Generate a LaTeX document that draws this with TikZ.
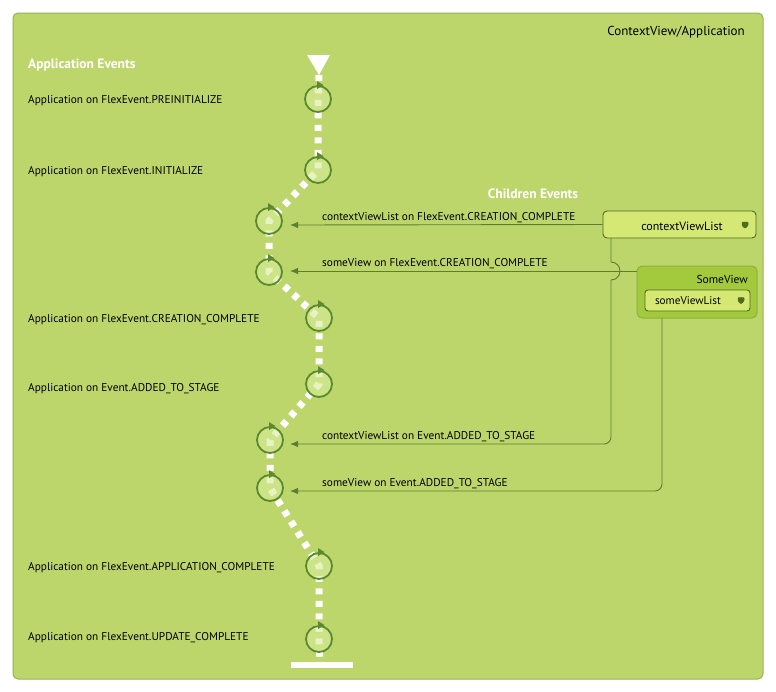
\documentclass[tikz,border=0pt]{standalone}
\usepackage{fontspec}
\setmainfont{PT Sans}
\usetikzlibrary{arrows.meta,calc}
\definecolor{panel}{HTML}{BDD66C}
\definecolor{panelline}{HTML}{93B54C}
\definecolor{ringc}{HTML}{5B8A2E}
\definecolor{ringfill}{HTML}{D9EC9C}
\definecolor{connc}{HTML}{5C7F2C}
\definecolor{lightbox}{HTML}{D6E874}
\definecolor{darkline}{HTML}{4E6B22}
\definecolor{svfill}{HTML}{A3C93C}
\definecolor{svline}{HTML}{8DB043}
\tikzset{
  lbl/.style={anchor=west, inner sep=0pt, font=\fontsize{11.3}{13}\selectfont},
  head/.style={inner sep=0pt, font=\bfseries\fontsize{13.5}{15}\selectfont, text=white},
  ring/.style={circle, minimum size=26pt, inner sep=0pt, draw=ringc, line width=1.8pt, fill=ringfill, fill opacity=0.6, draw opacity=1},
  ringtip/.style={fill=ringc},
  conn/.style={draw=connc, line width=0.9pt},
  arr/.style={conn, -{Latex[length=8pt,width=6.5pt]}},
  trail/.style={draw=white, line width=7pt, dash pattern=on 6pt off 6.5pt},
  listbox/.style={draw=darkline, line width=0.9pt, fill=lightbox, rounded corners=4pt},
  icon/.style={fill=darkline, draw=darkline, line width=0.5pt, rounded corners=0.8pt}
}
\begin{document}
\begin{tikzpicture}[x=1pt,y=-1pt]
\useasboundingbox (0,0) rectangle (776,691);
\fill[white] (0,0) rectangle (776,691);
% main panel
\draw[panelline, fill=panel, line width=1pt, rounded corners=5pt] (13,13) rectangle (763,679);
\node[anchor=east, inner sep=0pt, font=\fontsize{13}{15}\selectfont] (title) at (745,32.5) {ContextView/Application};
\node[head, anchor=west] (appev) at (28,65.5) {Application Events};
\node[head] (chev) at (533,193.5) {Children Events};

% circles positions
\coordinate (p1) at (318,99);
\coordinate (p2) at (318,170);
\coordinate (p3) at (269,221);
\coordinate (p4) at (269,272);
\coordinate (p5) at (319,318);
\coordinate (p6) at (319,384);
\coordinate (p7) at (270,440);
\coordinate (p8) at (270,488);
\coordinate (p9) at (319,566);
\coordinate (p10) at (319,639);
\coordinate (start) at (319,75);
\coordinate (stop) at (320,662);

% trail
\draw[trail] (start) -- (p1) -- (p2) -- (p3) -- (p4) -- (p5) -- (p6) -- (p7) -- (p8) -- (p9) -- (p10) -- (stop);
\fill[white] (307,55) -- (330,55) -- (319,75) -- cycle;
\fill[white] (291,662) rectangle (353,668);
\node[inner sep=0pt, minimum width=62pt, minimum height=6pt] (bar) at (322,665) {};

% rings
\foreach \i in {1,...,10} {
  \node[ring] (c\i) at (p\i) {};
  \fill[ringtip] ($(c\i.north)+(-1,-4)$) -- ($(c\i.north)+(5.5,0)$) -- ($(c\i.north)+(-1,4)$) -- cycle;
}

% left labels
\node[lbl] (l1) at (28,100.5) {Application on FlexEvent.PREINITIALIZE};
\node[lbl] (l2) at (28,171.5) {Application on FlexEvent.INITIALIZE};
\node[lbl] (l5) at (28,319.5) {Application on FlexEvent.CREATION\_COMPLETE};
\node[lbl] (l6) at (28,388.5) {Application on Event.ADDED\_TO\_STAGE};
\node[lbl] (l9) at (28,567.5) {Application on FlexEvent.APPLICATION\_COMPLETE};
\node[lbl] (l10) at (28,637.5) {Application on FlexEvent.UPDATE\_COMPLETE};

% contextViewList box
\node[listbox, minimum width=153pt, minimum height=27pt, inner sep=0pt] (cvl) at (679.5,224.5) {};
\node[inner sep=0pt, font=\fontsize{12}{14}\selectfont] (cvlt) at (682,226) {contextViewList};
\draw[icon] (742,222) -- (748,222) -- (748,225.5) -- (745,228.5) -- (742,225.5) -- cycle;

% SomeView box
\node[draw=svline, fill=svfill, line width=1pt, rounded corners=5pt, minimum width=120pt, minimum height=52pt, inner sep=0pt] (sv) at (697,292) {};
\node[anchor=east, inner sep=0pt, font=\fontsize{11.5}{13}\selectfont] (svt) at (748,279) {SomeView};
\node[listbox, rounded corners=3pt, minimum width=105pt, minimum height=21pt, inner sep=0pt] (svl) at (697.5,300.5) {};
\node[inner sep=0pt, font=\fontsize{11.2}{13}\selectfont] (svlt) at (688,301) {someViewList};
\draw[icon] (738,297.5) -- (744,297.5) -- (744,301) -- (741,304) -- (738,301) -- cycle;

% connector coordinates
\coordinate (e1) at (290,225);
\coordinate (e2) at (290,271);
\coordinate (e3) at (290,444);
\coordinate (e4) at (290,491);
\coordinate (v1) at (611,238);
\coordinate (v2) at (662,318);
\coordinate (s2) at (637,271);

% connectors
\draw[arr] (cvl.west) -- (e1);
\draw[arr] (s2) -- (e2);
\draw[conn] (v1) -- (611,262) arc[start angle=-90, end angle=90, radius=9];
\draw[arr, rounded corners=7pt] (611,280) -- (611,444) -- (e3);
\draw[arr, rounded corners=7pt] (v2) -- (662,491) -- (e4);

% connector labels
\node[lbl] (t1) at (322,217.5) {contextViewList on FlexEvent.CREATION\_COMPLETE};
\node[lbl] (t2) at (322,263.5) {someView on FlexEvent.CREATION\_COMPLETE};
\node[lbl] (t3) at (322,436.5) {contextViewList on Event.ADDED\_TO\_STAGE};
\node[lbl] (t4) at (322,483.5) {someView on Event.ADDED\_TO\_STAGE};
\end{tikzpicture}
\end{document}
